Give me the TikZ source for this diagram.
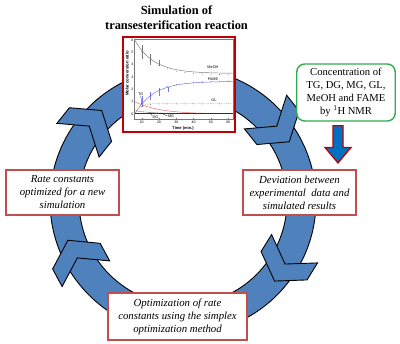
\documentclass[tikz,border=0pt]{standalone}
\usepackage{fontspec}
\setmainfont{Liberation Serif}
\newfontfamily\plotfont{Liberation Sans}
\usetikzlibrary{calc}
\definecolor{ringblue}{RGB}{79,129,189}
\definecolor{boxred}{RGB}{192,80,77}
\definecolor{plotred}{RGB}{192,0,0}
\definecolor{nmrgreen}{RGB}{50,170,80}
\definecolor{arrowblue}{RGB}{0,112,192}
\definecolor{famecol}{RGB}{120,120,235}
\definecolor{glcol}{RGB}{235,200,60}
\definecolor{tgcol}{RGB}{232,110,110}
\definecolor{axisgray}{RGB}{120,120,120}
\tikzset{
  ringpart/.style={fill=ringblue, draw=black, line width=0.9pt, line join=miter},
  stepbox/.style={draw=boxred, line width=1.1pt, fill=white, inner sep=0pt,
    font=\fontsize{10.8}{13}\selectfont\itshape, align=center},
  nmrbox/.style={draw=nmrgreen, line width=1.4pt, fill=white, rounded corners=8pt,
    inner sep=0pt, font=\fontsize{10.6}{13.2}\selectfont, align=center},
  plotbox/.style={draw=plotred, line width=2.2pt, fill=white, inner sep=0pt},
  titletext/.style={font=\fontsize{12.4}{15}\selectfont\bfseries, align=center, inner sep=0pt},
  ticklab/.style={font=\plotfont\fontsize{3.5}{3.8}\selectfont, inner sep=0.3pt},
  curvelab/.style={font=\plotfont\fontsize{3.8}{4.2}\selectfont, inner sep=0.2pt},
  axisline/.style={draw=axisgray, line width=0.35pt},
  dotmark/.style={fill=black!85},
}
\newcommand\mychev[1]{%
  \coordinate (N) at ($(O)+(#1:120)$);
  \filldraw[ringpart] ($(N)+(#1+90:20)$) -- ($(N)+(#1+90:2)+(#1:-27)$)
    -- ($(N)+(#1+90:-18)+(#1:-27)$) -- (N) -- ($(N)+(#1+90:-18)+(#1:27)$)
    -- ($(N)+(#1+90:2)+(#1:27)$) -- cycle;}
\begin{document}
\begin{tikzpicture}[x=1pt,y=-1pt]
\useasboundingbox (0,0) rectangle (400,344);
\fill[white] (0,0) rectangle (400,344);
\coordinate (O) at (183,201);
% ring
\filldraw[ringpart, even odd rule] (O) circle[radius=133] (O) circle[radius=104];
\mychev{-38.6}
\mychev{31.7}
\mychev{151.7}
\mychev{218.6}
% plot box
\node[plotbox, minimum width=112, minimum height=95] (plot) at (179,84.5) {};
\begin{scope}[shift={(124.4,114)}, xscale=1.73, yscale=-12.3]
  \draw[axisline] (5.6,-0.41) rectangle (62.8,6.1);
  \foreach \v in {0,...,6}{
    \draw[axisline] (5.6,\v) -- (6.3,\v);
    \node[ticklab, anchor=east] (yt\v) at (5.5,\v) {\v};}
  \foreach \t in {10,20,...,60}{
    \draw[axisline] (\t,-0.41) -- (\t,-0.3);
    \node[ticklab] (xt\t) at (\t,-0.7) {\t};}
  \node[ticklab, font=\plotfont\bfseries\fontsize{4}{4.4}\selectfont] (xlab) at (33.9,-1.16) {Time (min.)};
  \node[ticklab, font=\plotfont\bfseries\fontsize{4.2}{4.6}\selectfont, rotate=90] (ylab) at (1.6,3.3) {Molar conversion ratio};
  % curves
  \draw[axisgray, line width=0.45pt] plot[domain=6:62.5, samples=50] (\x,{3.3+2.7*exp(-(\x-6)/11)});
  \draw[famecol, line width=0.5pt] plot[domain=6:62.5, samples=50] (\x,{2.65*(1-exp(-(\x-6)/11))});
  \draw[glcol, line width=0.5pt, dash pattern=on 1pt off 0.8pt] plot[domain=6:62.5, samples=50] (\x,{0.87*(1-exp(-(\x-6)/3))});
  \draw[tgcol, line width=0.5pt] plot[domain=6:62.5, samples=50] (\x,{1.0*exp(-(\x-6)/14)});
  \draw[black!80, line width=0.35pt, dash pattern=on 0.8pt off 0.6pt] plot[domain=6:62.5, samples=40] (\x,{0.25*exp(-(\x-6)/10)+0.02});
  \draw[black!80, line width=0.35pt] (6,0.03) -- (62.5,0.03);
  % error bars
  \foreach \t/\lo/\hi in {10/4.5/5.6, 15/4.0/4.9, 20/3.9/4.4}{
    \draw[axisgray, line width=0.3pt] (\t,\lo) -- (\t,\hi);}
  \foreach \t/\lo/\hi in {10/0.6/1.5, 15/1.1/1.8, 20/1.5/2.1, 25/1.8/2.2}{
    \draw[famecol, line width=0.3pt] (\t,\lo) -- (\t,\hi);}
  % data points
  \foreach \t in {10,15,...,60}{
    \fill[dotmark] (\t,{3.3+2.7*exp(-(\t-6)/11)-0.12}) circle[x radius=0.22, y radius=0.03];
    \fill[dotmark] (\t,{2.65*(1-exp(-(\t-6)/11))+0.05}) circle[x radius=0.22, y radius=0.03];
    \fill[dotmark] (\t,{0.87*(1-exp(-(\t-6)/3))-0.05}) circle[x radius=0.22, y radius=0.03];
    \fill[dotmark] (\t,0.05) circle[x radius=0.22, y radius=0.03];}
  % labels
  \node[curvelab] (lmeoh) at (51.2,3.8) {MeOH};
  \node[curvelab] (lfame) at (51.2,2.85) {FAME};
  \node[curvelab] (lgl) at (51.8,1.14) {GL};
  \node[curvelab] (ltg) at (9.4,1.63) {TG};
  \node[curvelab] (ldg) at (17.9,-0.27) {DG};
  \node[curvelab] (lmg) at (27,-0.17) {MG};
  \draw[black, line width=0.25pt] (ltg.south) -- (10.2,0.8);
  \draw[black, line width=0.25pt] (ldg.north west) -- (14.5,0.15);
  \draw[black, line width=0.25pt] (lmg.west) -- (21,0.08);
\end{scope}
% step boxes
\node[stepbox, minimum width=113, minimum height=45] (newsim) at (62.5,192.5)
  {Rate constants\\optimized for a new\\simulation};
\node[stepbox, minimum width=113, minimum height=45] (dev) at (299.5,192.5)
  {Deviation between\\experimental\ \ data and\\simulated results};
\node[stepbox, minimum width=139, minimum height=47] (opt) at (177.5,316.5)
  {Optimization of rate\\constants using the simplex\\optimization method};
\node[nmrbox, minimum width=98.5, minimum height=57] (nmr) at (346,92.5)
  {Concentration of\\TG, DG, MG, GL,\\MeOH and FAME\\by \textsuperscript{1}H NMR};
\node[titletext] (title) at (176.5,17.5) {Simulation of\\transesterification reaction};
% down arrow from nmr box to deviation box
\coordinate (atop) at ($(nmr.south)+(-8,4)$);
\coordinate (atip) at ($(dev.north)+(38.5,-6.5)$);
\filldraw[fill=arrowblue, draw=plotred, line width=1.3pt, line join=miter]
  ($(atop)+(-5,0)$) -- ($(atop)+(5,0)$) -- ($(atip)+(5,-15.5)$) -- ($(atip)+(13,-15.5)$)
  -- (atip) -- ($(atip)+(-13,-15.5)$) -- ($(atip)+(-5,-15.5)$) -- cycle;
\end{tikzpicture}
\end{document}
